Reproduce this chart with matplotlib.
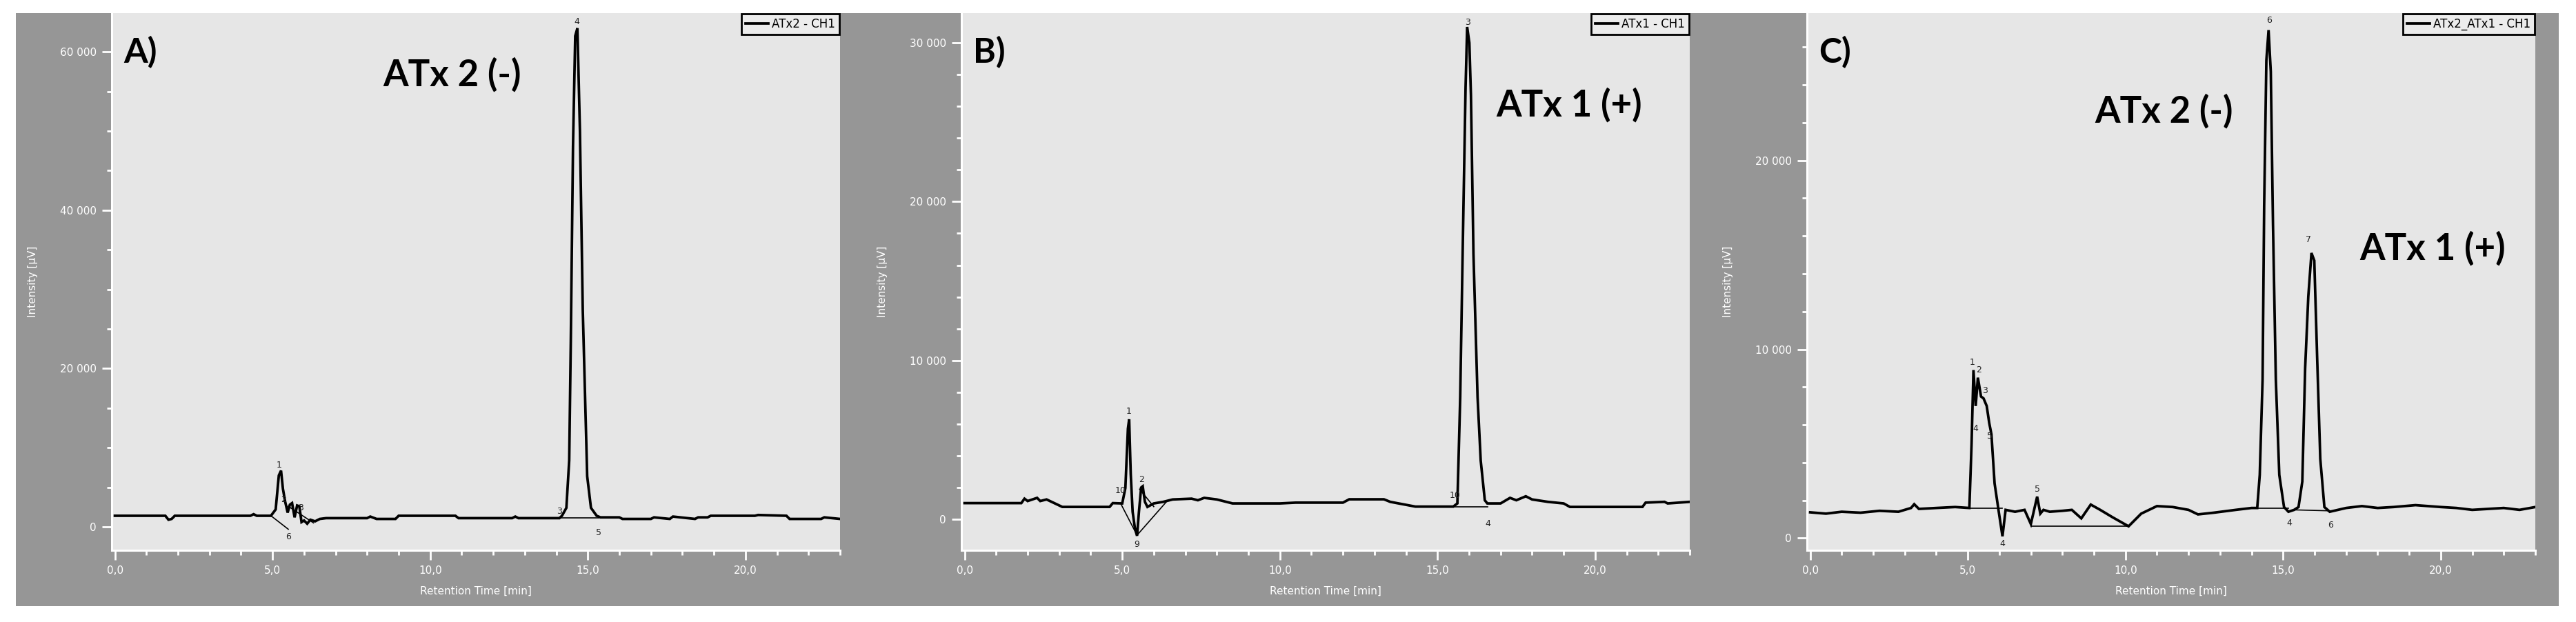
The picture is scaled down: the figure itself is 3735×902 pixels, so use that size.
import numpy as np
import matplotlib
matplotlib.use("Agg")
import matplotlib.pyplot as plt
from matplotlib.patches import Rectangle
from matplotlib.ticker import MultipleLocator, FuncFormatter

# ---- chromatogram A: ATx2 - CH1 ----
time_a = [0.0, 0.3, 1.6, 1.7, 1.8, 1.9, 4.3, 4.4, 4.5, 4.95, 5.1, 5.2, 5.27, 5.33, 5.4, 5.48, 5.55,
          5.62, 5.7, 5.78, 5.85, 5.92, 6.0, 6.1, 6.2, 6.35, 6.5, 6.7, 8.0, 8.1, 8.3, 8.9, 9.0, 10.8,
          10.9, 12.6, 12.7, 12.8, 14.1, 14.18, 14.32, 14.41, 14.46, 14.53, 14.60, 14.67, 14.75, 14.84,
          14.91, 14.98, 15.10, 15.28, 15.4, 16.0, 16.1, 17.0, 17.1, 17.6, 17.7, 18.4, 18.5, 18.8, 18.9,
          20.3, 20.4, 21.3, 21.4, 22.4, 22.5, 23.0]
signal_a = [1400, 1400, 1400, 900, 1000, 1400, 1400, 1600, 1400, 1400, 2200, 6500, 7100, 4800, 3200,
            1800, 2800, 3000, 1200, 2700, 2600, 600, 800, 400, 900, 700, 1000, 1100, 1100, 1300, 1000,
            1000, 1400, 1400, 1100, 1100, 1300, 1100, 1100, 1400, 2400, 8400, 23400, 48000, 62000, 63000,
            50000, 27400, 16900, 6400, 2400, 1400, 1200, 1200, 1000, 1000, 1200, 1000, 1300, 1000, 1200,
            1200, 1400, 1400, 1500, 1400, 1000, 1000, 1200, 1000]
base_a_t = [[4.95, 5.5], [5.5, 6.3], [14.1, 15.35]]
base_a_y = [[1400, -300], [2600, 500], [1100, 1100]]
marks_a = [(5.2, 7800, "1"), (5.35, 3400, "2"), (5.5, -1300, "6"), (5.9, 2400, "3"),
           (14.1, 2000, "3"), (14.65, 63800, "4"), (15.35, -700, "5")]

# ---- chromatogram B: ATx1 - CH1 ----
time_b = [0.0, 1.8, 1.9, 2.0, 2.3, 2.4, 2.6, 3.1, 4.6, 4.7, 5.0, 5.1, 5.18, 5.22, 5.27, 5.33, 5.4,
          5.47, 5.53, 5.6, 5.65, 5.72, 5.8, 6.0, 6.3, 6.6, 7.2, 7.4, 7.6, 8.0, 8.5, 10.0, 10.5, 12.0,
          12.2, 13.3, 13.5, 14.3, 15.5, 15.63, 15.72, 15.80, 15.89, 15.94, 16.01, 16.06, 16.14, 16.27,
          16.37, 16.50, 16.58, 17.0, 17.3, 17.5, 17.8, 18.0, 18.5, 19.0, 19.2, 21.5, 21.6, 22.2, 22.3, 23.0]
signal_b = [1020, 1020, 1300, 1150, 1350, 1150, 1250, 780, 780, 1020, 1000, 1970, 5700, 6300, 2840,
            470, -530, -1040, 470, 2000, 2080, 1100, 780, 1000, 1100, 1250, 1300, 1200, 1350, 1250, 1000,
            1000, 1050, 1050, 1260, 1260, 1100, 800, 800, 1000, 7700, 17100, 27200, 31000, 30000, 26700,
            16700, 7700, 3700, 1200, 1000, 1000, 1350, 1200, 1450, 1250, 1100, 1000, 780, 780, 1050,
            1100, 1000, 1100]
base_b_t = [[4.95, 5.47, 6.4], [5.55, 6.0], [15.55, 16.6]]
base_b_y = [[1000, -1000, 1100], [1900, 800], [800, 800]]
marks_b = [(5.2, 6800, "1"), (5.62, 2500, "2"), (4.95, 1800, "10"), (5.47, -1600, "9"),
           (15.55, 1500, "10"), (15.95, 31300, "3"), (16.6, -300, "4")]

# ---- chromatogram C: ATx2_ATx1 - CH1 ----
time_c = [0.0, 0.5, 1.0, 1.6, 2.2, 2.8, 3.2, 3.3, 3.45, 4.0, 4.6, 5.05, 5.12, 5.18, 5.25, 5.32, 5.42,
          5.5, 5.6, 5.68, 5.75, 5.85, 6.0, 6.1, 6.2, 6.5, 6.8, 7.0, 7.2, 7.3, 7.4, 7.6, 8.0, 8.3, 8.6,
          8.9, 9.2, 9.6, 10.1, 10.5, 11.0, 11.5, 12.0, 12.3, 12.8, 13.5, 14.0, 14.18, 14.26, 14.35, 14.40,
          14.47, 14.54, 14.61, 14.68, 14.77, 14.88, 15.03, 15.17, 15.35, 15.49, 15.61, 15.70, 15.80,
          15.90, 15.99, 16.08, 16.18, 16.31, 16.48, 17.0, 17.5, 18.0, 18.5, 19.2, 19.6, 20.0, 20.5,
          21.0, 21.5, 22.0, 22.5, 23.0]
signal_c = [1370, 1300, 1400, 1350, 1450, 1400, 1600, 1800, 1550, 1600, 1650, 1600, 5000, 8900, 7000,
            8500, 7500, 7400, 7000, 6100, 5500, 2900, 1200, 100, 1500, 1400, 1500, 750, 2200, 1300, 1500,
            1400, 1450, 1500, 1050, 1780, 1500, 1100, 630, 1300, 1700, 1650, 1500, 1260, 1350, 1500, 1600,
            1600, 3350, 8400, 17600, 25300, 26900, 24700, 16600, 8400, 3350, 1650, 1400, 1500, 1650, 3000,
            9000, 12800, 15100, 14700, 9600, 4200, 1650, 1400, 1600, 1700, 1600, 1650, 1750, 1700, 1650,
            1600, 1500, 1550, 1600, 1500, 1650]
base_c_t = [[5.0, 6.1], [7.0, 10.1], [14.18, 15.17], [15.35, 16.48]]
base_c_y = [[1600, 1600], [650, 650], [1600, 1600], [1500, 1450]]
marks_c = [(5.15, 9300, "1"), (5.35, 8900, "2"), (5.55, 7800, "3"), (5.25, 5800, "4"),
           (5.7, 5400, "5"), (6.1, -300, "4"), (7.2, 2600, "5"), (14.55, 27400, "6"),
           (15.8, 15800, "7"), (15.2, 800, "4"), (16.5, 700, "6")]

panels = [
    dict(t=time_a, y=signal_a, bt=base_a_t, by=base_a_y, marks=marks_a, ylim=(-2960, 64900),
         major=20000, minor=5000, legend="ATx2 - CH1", tag="A)",
         notes=[(0.467, 0.886, "ATx 2 (-)")]),
    dict(t=time_b, y=signal_b, bt=base_b_t, by=base_b_y, marks=marks_b, ylim=(-1950, 31870),
         major=10000, minor=2000, legend="ATx1 - CH1", tag="B)",
         notes=[(0.834, 0.829, "ATx 1 (+)")]),
    dict(t=time_c, y=signal_c, bt=base_c_t, by=base_c_y, marks=marks_c, ylim=(-640, 27800),
         major=10000, minor=2000, legend="ATx2_ATx1 - CH1", tag="C)",
         notes=[(0.49, 0.818, "ATx 2 (-)"), (0.859, 0.562, "ATx 1 (+)")]),
]

W, H = 3735, 902
fig = plt.figure(figsize=(W / 100, H / 100), dpi=100)
fig.patch.set_facecolor("white")
frame = Rectangle((23 / W, 1 - 879 / H), (3710 - 23) / W, (879 - 19) / H,
                  transform=fig.transFigure, facecolor="#969696", edgecolor="none", zorder=-10)
fig.add_artist(frame)

lefts = [162, 1394, 2620]
width = 1056
bottom = 1 - 798 / H
height = (798 - 19) / H

yfmt = FuncFormatter(lambda v, p: "{:,.0f}".format(v).replace(",", " "))
xfmt = FuncFormatter(lambda v, p: "{:.1f}".format(v).replace(".", ","))

for left, p in zip(lefts, panels):
    ax = fig.add_axes([left / W, bottom, width / W, height])
    ax.set_zorder(1)
    ax.set_facecolor("#e6e6e6")
    ax.plot(p["t"], p["y"], color="black", lw=2.7, solid_joinstyle="miter")
    for bt, by in zip(p["bt"], p["by"]):
        ax.plot(bt, by, color="black", lw=1.2)
    for mx, my, s in p["marks"]:
        ax.text(mx, my, s, fontsize=9, color="#222222", ha="center", va="center")
    ax.set_xlim(-0.1, 23.0)
    ax.set_ylim(*p["ylim"])

    for side in ["top", "right"]:
        ax.spines[side].set_visible(False)
    for side in ["left", "bottom"]:
        ax.spines[side].set_color("white")
        ax.spines[side].set_linewidth(2.2)

    ax.xaxis.set_major_locator(MultipleLocator(5))
    ax.xaxis.set_minor_locator(MultipleLocator(1))
    ax.yaxis.set_major_locator(MultipleLocator(p["major"]))
    ax.yaxis.set_minor_locator(MultipleLocator(p["minor"]))
    ax.xaxis.set_major_formatter(xfmt)
    ax.yaxis.set_major_formatter(yfmt)
    ax.tick_params(which="major", direction="out", color="white", width=2, length=10,
                   labelcolor="white", labelsize=11, pad=6)
    ax.tick_params(which="minor", direction="out", color="white", width=2, length=5)

    ax.set_xlabel("Retention Time [min]", color="white", fontsize=11)
    ax.set_ylabel("Intensity [µV]", color="white", fontsize=11)
    ax.xaxis.set_label_coords(0.5, -0.0757)
    ax.xaxis.label.set_va("center")
    ax.yaxis.set_label_coords(-0.108, 0.5)
    ax.yaxis.label.set_va("center")

    ax.text(0.016, 0.927, p["tag"], transform=ax.transAxes, fontsize=36, fontweight="bold",
            family="Lato", ha="left", va="center", color="black")
    for nx, ny, s in p["notes"]:
        ax.text(nx, ny, s, transform=ax.transAxes, fontsize=38, fontweight="bold",
                family="Lato", ha="center", va="center", color="black")

    leg = ax.legend([p["legend"]], loc="upper right", fontsize=12, frameon=True, fancybox=False,
                    borderaxespad=0.05, handlelength=2.0, handletextpad=0.3, borderpad=0.35)
    leg.get_frame().set_edgecolor("black")
    leg.get_frame().set_linewidth(2)
    leg.get_frame().set_facecolor("#ececec")
    leg.get_frame().set_alpha(1)

fig.savefig("out.png", dpi=100)
